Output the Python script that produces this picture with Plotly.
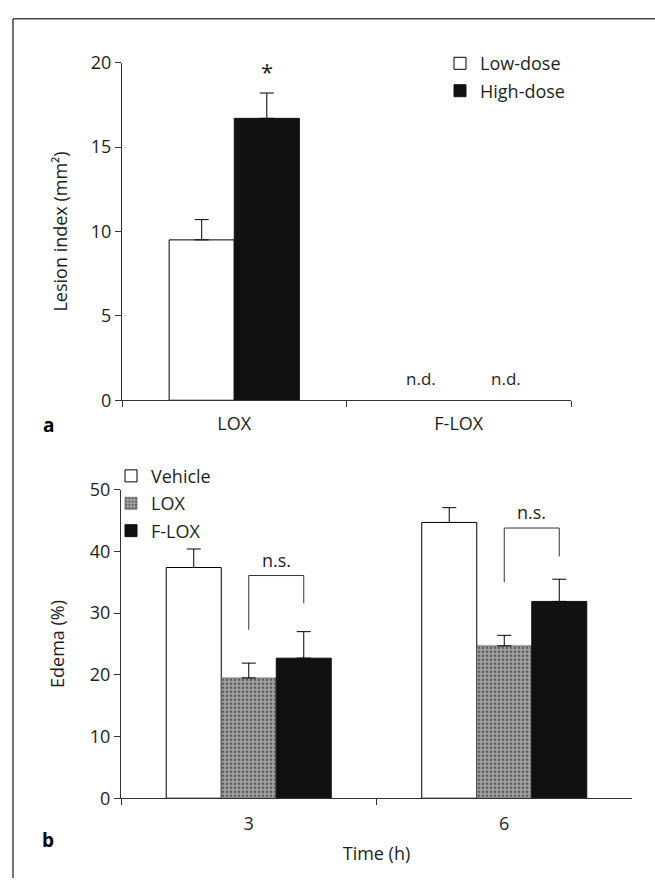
import plotly.graph_objects as go

# ---------------- data ----------------
categories_a = ["LOX", "F-LOX"]
low_dose = [9.5, None]
low_dose_err = [1.2, None]
high_dose = [16.7, None]
high_dose_err = [1.5, None]
nd_labels = ["n.d.", "n.d."]

times = ["3", "6"]
vehicle = [37.4, 44.7]
vehicle_err = [3.0, 2.4]
lox = [19.5, 24.7]
lox_err = [2.4, 1.7]
flox = [22.7, 31.9]
flox_err = [4.3, 3.6]

# n.s. brackets (data units)
bracket_top = [36.1, 43.8]
bracket_left_bottom = [27.3, 35.0]
bracket_right_bottom = [31.6, 39.2]

yticks_a = [0, 5, 10, 15, 20]
yticks_b = [0, 10, 20, 30, 40, 50]

# ---------------- style ----------------
FONT = "Open Sans"
FS = 18
INK = "#1e1e1e"
AX = "#333333"

W, H = 655, 889

def px_x(p):
    return p / W

def px_y(p):
    return 1 - p / H

wa = 0.29          # bar width panel a (category units)
wb = 0.2153        # bar width panel b

fig = go.Figure()

def err(arr):
    return dict(type="data", symmetric=False, array=arr,
                arrayminus=[0 if v is not None else None for v in arr],
                color="black", thickness=1, width=7)

fig.add_trace(go.Bar(x=categories_a, y=low_dose, name="Low-dose",
                     width=wa, offset=-wa, xaxis="x", yaxis="y",
                     marker=dict(color="white", line=dict(color="black", width=1)),
                     error_y=err(low_dose_err), legend="legend", legendgroup="a1"))
fig.add_trace(go.Bar(x=categories_a, y=high_dose, name="High-dose",
                     width=wa, offset=0, xaxis="x", yaxis="y",
                     marker=dict(color="#111111", line=dict(color="#111111", width=1)),
                     error_y=err(high_dose_err), legend="legend", legendgroup="a2"))

fig.add_trace(go.Bar(x=times, y=vehicle, name="Vehicle",
                     width=wb, offset=-1.5 * wb, xaxis="x2", yaxis="y2",
                     marker=dict(color="white", line=dict(color="black", width=1)),
                     error_y=err(vehicle_err), legend="legend2", legendgroup="b1"))
fig.add_trace(go.Bar(x=times, y=lox, name="LOX",
                     width=wb, offset=-0.5 * wb, xaxis="x2", yaxis="y2",
                     marker=dict(color="#9a9a9a", line=dict(color="#444444", width=0.6),
                                 pattern=dict(shape=".", fgcolor="#5e5e5e", bgcolor="#a2a2a2",
                                              size=4, solidity=0.35, fillmode="replace")),
                     error_y=err(lox_err), legend="legend2", legendgroup="b2"))
fig.add_trace(go.Bar(x=times, y=flox, name="F-LOX",
                     width=wb, offset=0.5 * wb, xaxis="x2", yaxis="y2",
                     marker=dict(color="#111111", line=dict(color="#111111", width=1)),
                     error_y=err(flox_err), legend="legend2", legendgroup="b3"))

axis_common = dict(showline=True, linecolor=AX, linewidth=1, ticks="outside",
                   tickcolor=AX, ticklen=6, tickwidth=1, showgrid=False, zeroline=False,
                   tickfont=dict(family=FONT, size=FS, color=INK))

fig.update_layout(
    width=W, height=H, margin=dict(l=0, r=0, t=0, b=0),
    paper_bgcolor="white", plot_bgcolor="white",
    barmode="group", showlegend=True,
    font=dict(family=FONT, size=FS, color=INK),
    xaxis=dict(domain=[px_x(122), px_x(571)], anchor="y", type="category",
               range=[-0.5, 1.5], tickson="boundaries", ticklabelstandoff=7,
               **axis_common),
    yaxis=dict(domain=[px_y(398), px_y(51)], anchor="x", range=[0, 20],
               tickvals=yticks_a,
               title=dict(text="Lesion index (mm²)", standoff=18,
                          font=dict(family=FONT, size=FS, color=INK)),
               **axis_common),
    xaxis2=dict(domain=[px_x(121), px_x(632)], anchor="y2", type="category",
                range=[-0.5, 1.5], tickson="boundaries", ticklabelstandoff=9,
                title=dict(text="Time (h)", standoff=13,
                           font=dict(family=FONT, size=FS, color=INK)),
                **axis_common),
    yaxis2=dict(domain=[px_y(807), px_y(490)], anchor="x2", range=[0, 50],
                tickvals=yticks_b,
                title=dict(text="Edema (%)", standoff=20,
                           font=dict(family=FONT, size=FS, color=INK)),
                **axis_common),
    legend=dict(x=px_x(440), y=px_y(33), xanchor="left", yanchor="top",
                bgcolor="rgba(0,0,0,0)", borderwidth=0, traceorder="grouped",
                tracegroupgap=1, font=dict(family=FONT, size=FS, color=INK)),
    legend2=dict(x=px_x(111), y=px_y(457), xanchor="left", yanchor="top",
                 bgcolor="rgba(0,0,0,0)", borderwidth=0, traceorder="grouped",
                 tracegroupgap=1, font=dict(family=FONT, size=FS, color=INK)),
)

annotations = []
# asterisk over high-dose LOX
annotations.append(dict(x=wa / 2, y=high_dose[0] + high_dose_err[0], xref="x", yref="y",
                        text="*", showarrow=False, yanchor="bottom", yshift=5,
                        font=dict(family=FONT, size=22, color=INK)))
# n.d. labels
for xpos, lab in zip([0.83, 1.21], nd_labels):
    annotations.append(dict(x=xpos, y=0, xref="x", yref="y", text=lab, showarrow=False,
                            yanchor="bottom", yshift=8,
                            font=dict(family=FONT, size=FS - 1, color=INK)))
# n.s. brackets
shapes = []
for i in range(len(times)):
    xl = i + 0.0
    xr = i + wb
    shapes.append(dict(type="path", xref="x2", yref="y2",
                       path=f"M {xl} {bracket_left_bottom[i]} L {xl} {bracket_top[i]} "
                            f"L {xr} {bracket_top[i]} L {xr} {bracket_right_bottom[i]}",
                       line=dict(color=AX, width=1)))
    annotations.append(dict(x=(xl + xr) / 2, y=bracket_top[i], xref="x2", yref="y2",
                            text="n.s.", showarrow=False, yanchor="bottom", yshift=2,
                            font=dict(family=FONT, size=FS, color=INK)))
# panel letters
annotations.append(dict(x=px_x(48), y=px_y(423), xref="paper", yref="paper", text="<b>a</b>",
                        xanchor="center", yanchor="middle",
                        showarrow=False, font=dict(family=FONT, size=FS + 1, color="black")))
annotations.append(dict(x=px_x(48), y=px_y(850), xref="paper", yref="paper", text="<b>b</b>",
                        xanchor="center", yanchor="middle",
                        showarrow=False, font=dict(family=FONT, size=FS + 1, color="black")))
# frame lines
shapes.append(dict(type="line", xref="paper", yref="paper", x0=px_x(13), x1=1,
                   y0=px_y(6), y1=px_y(6), line=dict(color="#444", width=1.5)))
shapes.append(dict(type="line", xref="paper", yref="paper", x0=px_x(13), x1=px_x(13),
                   y0=0, y1=px_y(6), line=dict(color="#444", width=1.5)))

fig.update_layout(annotations=annotations, shapes=shapes)

fig.write_html("out.html", config={"displayModeBar": False},
               post_script="document.body.style.margin='0';")
